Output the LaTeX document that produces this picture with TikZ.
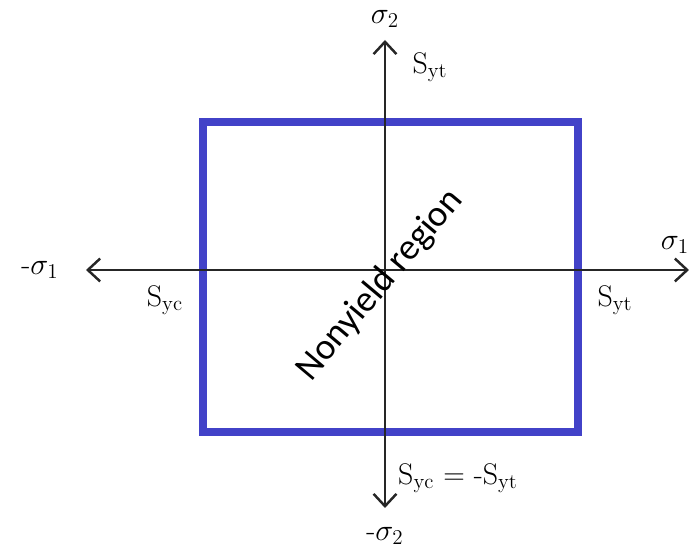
\documentclass[tikz,border=0pt]{standalone}
\usepackage{fontspec}
\newfontfamily\labelsans{Carlito}
\usetikzlibrary{arrows.meta}
\definecolor{yieldblue}{RGB}{66,66,200}
\newcommand\yieldS[1]{$\mathrm{S}_{\mathrm{#1}}$}
\tikzset{
  axisline/.style={line width=1.6pt, black!85,
    -{Straight Barb[length=7pt, width=13pt, line width=1.4pt]}},
  yieldbox/.style={draw=yieldblue, line width=5pt},
  axislabel/.style={font=\fontsize{17}{20}\selectfont, inner sep=0pt},
  regionlabel/.style={font=\labelsans\fontsize{21}{25}\selectfont, rotate=50,
    inner sep=0pt},
}
\begin{document}
\begin{tikzpicture}[x=0.02cm, y=-0.02cm]
\useasboundingbox (0,0) rectangle (691,550);
% axis end points
\coordinate (origin) at (385,270);
\coordinate (xneg) at (86,270);
\coordinate (xpos) at (689,270);
\coordinate (ypos) at (385,40);
\coordinate (yneg) at (385,508);
% yield region
\draw[yieldbox] (203,122) rectangle (578,432);
% axes
\draw[axisline] (origin) -- (xpos);
\draw[axisline] (origin) -- (xneg);
\draw[axisline] (origin) -- (ypos);
\draw[axisline] (origin) -- (yneg);
% labels
\node[axislabel] (sig2) at (385,19) {$\sigma_2$};
\node[axislabel] (sig2neg) at (385,536) {-$\sigma_2$};
\node[axislabel] (sig1) at (675,245) {$\sigma_1$};
\node[axislabel] (sig1neg) at (40,270) {-$\sigma_1$};
\node[axislabel] (sytop) at (430,67) {\yieldS{yt}};
\node[axislabel] (syright) at (615,300) {\yieldS{yt}};
\node[axislabel] (syleft) at (165,300) {\yieldS{yc}};
\node[axislabel] (sybottom) at (458,478) {\yieldS{yc} = -\yieldS{yt}};
\node[regionlabel] (region) at (380,285) {Nonyield region};
\end{tikzpicture}
\end{document}
